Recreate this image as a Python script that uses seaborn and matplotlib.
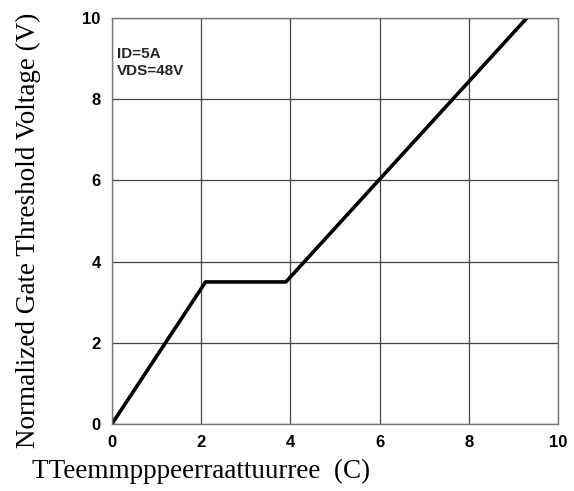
import matplotlib
matplotlib.use("Agg")
import matplotlib.pyplot as plt
import seaborn as sns
import pandas as pd
from matplotlib import font_manager

temperature = [0.0, 2.1, 3.9, 9.3]
voltage = [0.0, 3.5, 3.5, 10.0]
ticks = [0, 2, 4, 6, 8, 10]
tick_labels = ["0", "2", "4", "6", "8", "10"]

sns.set_theme(style="white")
names = {f.name for f in font_manager.fontManager.ttflist}
narrow = "Liberation Sans Narrow" if "Liberation Sans Narrow" in names else "Liberation Sans"

df = pd.DataFrame({"T": temperature, "V": voltage})

fig = plt.figure(figsize=(5.74, 4.91), dpi=100)
ax = fig.add_axes([0.195, 0.1365, 0.777, 0.8265])
sns.lineplot(data=df, x="T", y="V", ax=ax, color="black", linewidth=2.6, sort=False)

ax.set_xlim(0, 10)
ax.set_ylim(0, 10)
ax.set_xticks(ticks)
ax.set_yticks(ticks)
ax.set_xticklabels(tick_labels, fontfamily=[narrow, "DejaVu Sans"], fontweight="bold", fontsize=12)
ax.set_yticklabels(tick_labels, fontfamily=[narrow, "DejaVu Sans"], fontweight="bold", fontsize=12)
ax.tick_params(axis="both", length=0, pad=8, colors="black")
ax.grid(True, color="#444444", linewidth=0.9)
for s in ax.spines.values():
    s.set_color("#777777")
    s.set_linewidth(1.0)

ax.set_xlabel("TTeemmpppeerraattuurree  (C)", fontfamily="Liberation Serif", fontsize=19.5, color="black")
ax.xaxis.set_label_coords(0.2, -0.085)
ax.set_ylabel("Normalized Gate Threshold Voltage (V)", fontfamily="Liberation Serif", fontsize=19.5, color="black")
ax.yaxis.set_label_coords(-0.159, 0.478)

ax.text(0.012, 0.928, "ID=5A\nVDS=48V", transform=ax.transAxes, ha="left", va="top",
        fontfamily=[narrow, "DejaVu Sans"], fontweight="bold", fontsize=11, linespacing=1.2)

fig.savefig("out.png", dpi=100)
